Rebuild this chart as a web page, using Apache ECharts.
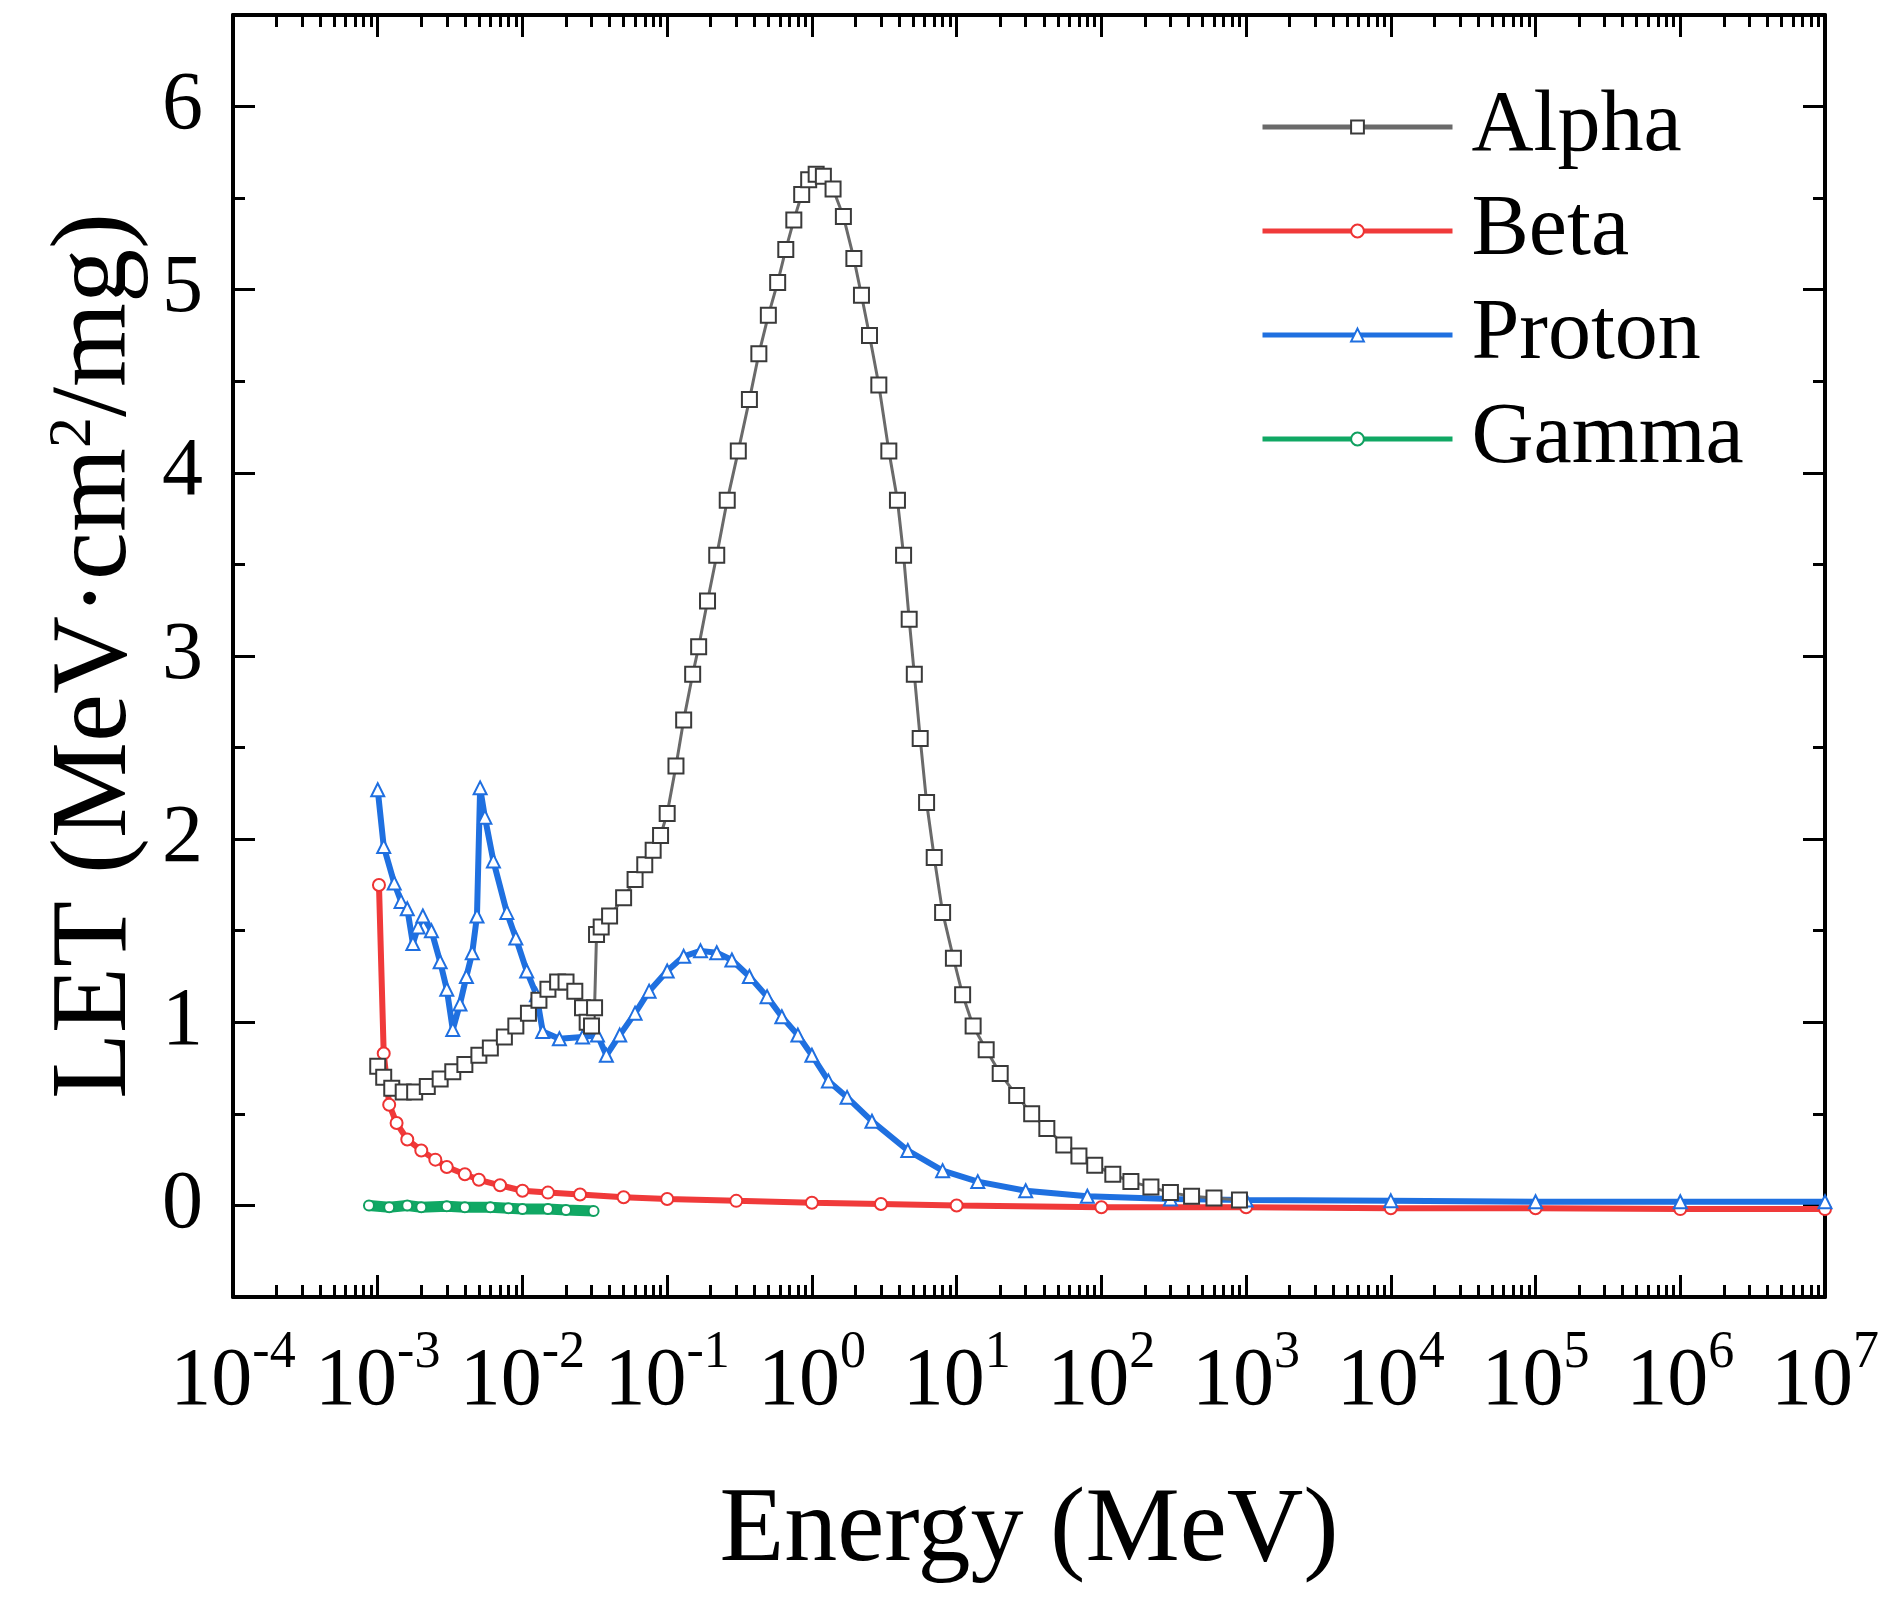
<!DOCTYPE html>
<html><head><meta charset="utf-8">
<script src="https://cdn.jsdelivr.net/npm/echarts@6/dist/echarts.min.js"></script>
<style>html,body{margin:0;padding:0;background:#fff}#c{width:1899px;height:1605px}</style>
</head><body><div id="c"></div>
<script>
// ---- data (Energy in MeV, LET in MeV·cm²/mg) ----
const seriesNames = ['Alpha', 'Beta', 'Proton', 'Gamma'];
const alphaData = [[1e-3,0.76],[1.1e-3,0.70],[1.25e-3,0.64],[1.5e-3,0.62],[1.8e-3,0.62],[2.2e-3,0.65],[2.7e-3,0.69],[3.3e-3,0.73],[4e-3,0.77],[5e-3,0.82],[6e-3,0.86],[7.5e-3,0.92],[9e-3,0.98],[1.1e-2,1.05],[1.3e-2,1.12],[1.5e-2,1.18],[1.75e-2,1.22],[2.0e-2,1.22],[2.3e-2,1.17],[2.6e-2,1.08],[2.8e-2,1.0],[3.0e-2,0.98],[3.15e-2,1.08],[3.25e-2,1.48],[3.5e-2,1.52],[4e-2,1.58],[5e-2,1.68],[6e-2,1.78],[7e-2,1.86],[8e-2,1.94],[9e-2,2.02],[0.1,2.14],[0.115,2.4],[0.13,2.65],[0.15,2.9],[0.165,3.05],[0.19,3.3],[0.22,3.55],[0.26,3.85],[0.31,4.12],[0.37,4.4],[0.43,4.65],[0.5,4.86],[0.58,5.04],[0.66,5.22],[0.75,5.38],[0.85,5.52],[0.95,5.6],[1.07,5.63],[1.2,5.62],[1.4,5.55],[1.65,5.4],[1.95,5.17],[2.2,4.97],[2.5,4.75],[2.9,4.48],[3.4,4.12],[3.9,3.85],[4.3,3.55],[4.7,3.2],[5.1,2.9],[5.6,2.55],[6.2,2.2],[7.0,1.9],[8.0,1.6],[9.5,1.35],[11,1.15],[13,0.98],[16,0.85],[20,0.72],[26,0.6],[33,0.5],[42,0.42],[55,0.33],[70,0.27],[90,0.22],[120,0.17],[160,0.13],[220,0.1],[300,0.07],[420,0.05],[600,0.04],[900,0.03]];
const betaData = [[1.02e-3,1.75],[1.1e-3,0.83],[1.2e-3,0.55],[1.35e-3,0.45],[1.6e-3,0.36],[2e-3,0.3],[2.5e-3,0.25],[3e-3,0.21],[4e-3,0.17],[5e-3,0.14],[7e-3,0.11],[1e-2,0.08],[1.5e-2,0.07],[2.5e-2,0.06],[5e-2,0.045],[0.1,0.035],[0.3,0.025],[1,0.015],[3,0.008],[10,0.0],[100,-0.01],[1e3,-0.01],[1e4,-0.015],[1e5,-0.015],[1e6,-0.02],[1e7,-0.02]];
const protonData = [[1e-3,2.27],[1.1e-3,1.96],[1.3e-3,1.76],[1.45e-3,1.66],[1.6e-3,1.62],[1.75e-3,1.43],[1.9e-3,1.52],[2.05e-3,1.58],[2.35e-3,1.5],[2.7e-3,1.33],[3.0e-3,1.18],[3.3e-3,0.96],[3.7e-3,1.1],[4.1e-3,1.25],[4.5e-3,1.38],[4.85e-3,1.58],[5.1e-3,2.28],[5.5e-3,2.12],[6.3e-3,1.88],[7.8e-3,1.6],[9e-3,1.46],[1.07e-2,1.28],[1.25e-2,1.15],[1.38e-2,0.95],[1.8e-2,0.91],[2.6e-2,0.92],[3.3e-2,0.93],[3.8e-2,0.82],[4.7e-2,0.93],[6e-2,1.05],[7.5e-2,1.17],[0.1,1.28],[0.13,1.36],[0.17,1.39],[0.22,1.38],[0.28,1.34],[0.37,1.25],[0.49,1.14],[0.62,1.03],[0.8,0.93],[1.0,0.82],[1.3,0.68],[1.75,0.59],[2.6,0.46],[4.6,0.3],[8,0.19],[14,0.13],[30,0.08],[80,0.05],[300,0.035],[1e3,0.03],[1e4,0.025],[1e5,0.02],[1e6,0.02],[1e7,0.02]];
const gammaData = [[8.7e-4,0.0],[1.2e-3,-0.01],[1.6e-3,0.0],[2e-3,-0.01],[3e-3,-0.005],[4e-3,-0.01],[6e-3,-0.01],[8e-3,-0.015],[1e-2,-0.02],[1.5e-2,-0.02],[2e-2,-0.025],[3.1e-2,-0.03]];

// ---- axis ticks ----
const xMajorTicks = [1e-4,1e-3,1e-2,1e-1,1e0,1e1,1e2,1e3,1e4,1e5,1e6,1e7];
const xMinorTicks = [];
for (let k = -4; k < 7; k++) for (let m = 2; m <= 9; m++) xMinorTicks.push(m * Math.pow(10, k));
const yMajorTicks = [0,1,2,3,4,5,6];
const yMinorTicks = [0.5,1.5,2.5,3.5,4.5,5.5];

const FONT = 'Liberation Serif';
const colors = {Alpha:'#3a3a3a', Beta:'#ee3333', Proton:'#1f6fe0', Gamma:'#10a060'};
const lineColors = {Alpha:'#6a6a6a', Beta:'#f03a3a', Proton:'#1f70e0', Gamma:'#10a864'};
const lineWidths = {Alpha:3, Beta:6, Proton:6, Gamma:11};
const symbolSizes = {Alpha:15, Beta:12, Proton:13, Gamma:10};
const symbols = {Alpha:'emptyRect', Beta:'emptyCircle', Proton:'emptyTriangle', Gamma:'emptyCircle'};
const dataMap = {Alpha:alphaData, Beta:betaData, Proton:protonData, Gamma:gammaData};

const chart = echarts.init(document.getElementById('c'), null, {renderer:'canvas'});
const gridRect = {left:233, right:74, top:15, bottom:308};

function xAxisDef(grid, pos, major, labels) {
  return {
    type:'log', logBase:10, gridIndex:grid, position:pos, min:1e-4, max:1e7,
    axisLine: {show:major, onZero:false, lineStyle:{color:'#000', width:4}},
    splitLine:{show:false},
    axisTick:{show:true, inside:true, length: major ? 22 : 12, lineStyle:{color:'#000', width:3},
      customValues: major ? xMajorTicks : xMinorTicks},
    axisLabel: labels ? {
      show:true, margin:30, customValues:xMajorTicks, color:'#000', fontFamily:FONT,
      formatter: v => '{b|10}{s|' + Math.round(Math.log10(v)) + '}',
      rich:{ b:{fontSize:82, fontFamily:FONT, color:'#000', lineHeight:96, verticalAlign:'bottom'},
             s:{fontSize:52, fontFamily:FONT, color:'#000', lineHeight:60, verticalAlign:'top'} }
    } : {show:false}
  };
}
function yAxisDef(grid, pos, major, labels) {
  return {
    type:'value', gridIndex:grid, position:pos, min:-0.5, max:6.5,
    axisLine: {show:major, onZero:false, lineStyle:{color:'#000', width:4}},
    splitLine:{show:false},
    axisTick:{show:true, inside:true, length: major ? 22 : 12, lineStyle:{color:'#000', width:3},
      customValues: major ? yMajorTicks : yMinorTicks},
    axisLabel: labels ? {show:true, margin:30, customValues:yMajorTicks, color:'#000', fontFamily:FONT, fontSize:82} : {show:false}
  };
}

const xAxes = [xAxisDef(0,'bottom',true,true), xAxisDef(0,'top',true,false), xAxisDef(1,'bottom',false,false), xAxisDef(1,'top',false,false)];
Object.assign(xAxes[0], {name:'Energy (MeV)', nameLocation:'middle', nameGap:182,
  nameTextStyle:{fontFamily:FONT, fontSize:106, color:'#000'}});
const yAxes = [yAxisDef(0,'left',true,true), yAxisDef(0,'right',true,false), yAxisDef(1,'left',false,false), yAxisDef(1,'right',false,false)];
Object.assign(yAxes[0], {name:'LET (MeV·cm{sup|2}/mg)', nameLocation:'middle', nameGap:78,
  nameTextStyle:{fontFamily:FONT, fontSize:108, color:'#000',
    rich:{sup:{fontFamily:FONT, fontSize:62, color:'#000', verticalAlign:'top', lineHeight:70}}}});

const drawOrder = ['Gamma','Beta','Proton','Alpha'];
const series = drawOrder.map((n, i) => ({
  name:n, type:'line', xAxisIndex:0, yAxisIndex:0, data:dataMap[n],
  symbol:symbols[n], symbolSize:symbolSizes[n], showSymbol:true, showAllSymbol:true,
  lineStyle:{color:lineColors[n], width:lineWidths[n]},
  itemStyle:{color:colors[n], borderWidth:2},
  z: 2 + i, animation:false
}));

chart.setOption({
  animation:false,
  backgroundColor:'#fff',
  grid:[Object.assign({}, gridRect), Object.assign({}, gridRect)],
  xAxis:xAxes, yAxis:yAxes,
  legend:{
    orient:'vertical', left:1255, top:76, itemWidth:190, itemHeight:16, itemGap:12,
    data:seriesNames, selectedMode:false,
    lineStyle:{width:5},
    textStyle:{fontFamily:FONT, fontSize:86, color:'#000', lineHeight:92, padding:[0,0,0,14]}
  },
  series:series
});
</script></body></html>
